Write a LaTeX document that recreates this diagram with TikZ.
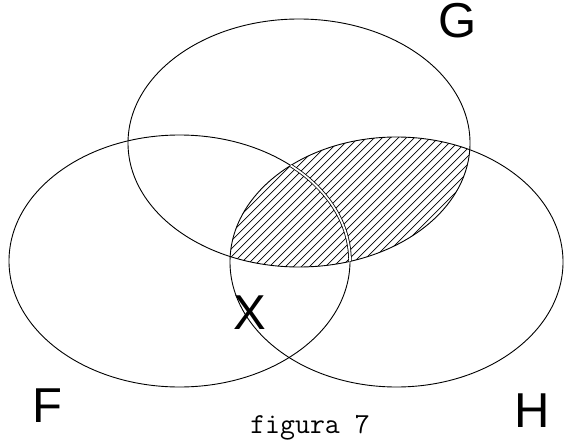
\documentclass[tikz,border=0pt]{standalone}
\usepackage{fontspec}
\setmainfont{Liberation Sans}
\begin{document}
\begin{tikzpicture}[x=1pt,y=-1pt,
  setline/.style={line width=0.9pt},
  hatchline/.style={line width=0.7pt},
  lbl/.style={inner sep=0pt, anchor=base, font=\fontsize{49}{49}\selectfont},
  capt/.style={inner sep=0pt, anchor=base, font=\ttfamily\fontsize{29}{29}\selectfont}]
\useasboundingbox (0,0) rectangle (564,441);
% hatching of G intersect H
\begin{scope}
  \clip (299,143) ellipse [x radius=171, y radius=124];
  \clip (396.5,262) ellipse [x radius=166.5, y radius=125];
  \foreach \c in {440,448,...,704} \draw[hatchline] (\c-100,100) -- (\c-300,300);
\end{scope}
% the three sets
\draw[setline] (179.5,261) ellipse [x radius=170.5, y radius=126];
\draw[setline] (299,143) ellipse [x radius=171, y radius=124];
\draw[setline] (396.5,262) ellipse [x radius=166.5, y radius=125];
% F's arc across the hatched region, drawn as a double line
\begin{scope}
  \clip (299,143) ellipse [x radius=171, y radius=124];
  \clip (396.5,262) ellipse [x radius=166.5, y radius=125];
  \draw[line width=0.8pt, double=white, double distance=1.8pt] (179.5,261) ellipse [x radius=170.5, y radius=126];
\end{scope}
% labels
\node[lbl] (g) at (458,38) {G};
\node[lbl] (f) at (47,422) {F};
\node[lbl] (h) at (532,427) {H};
\node[lbl] (x) at (250,329) {X};
\node[capt] (cap) at (310,433) {figura 7};
\end{tikzpicture}
\end{document}
